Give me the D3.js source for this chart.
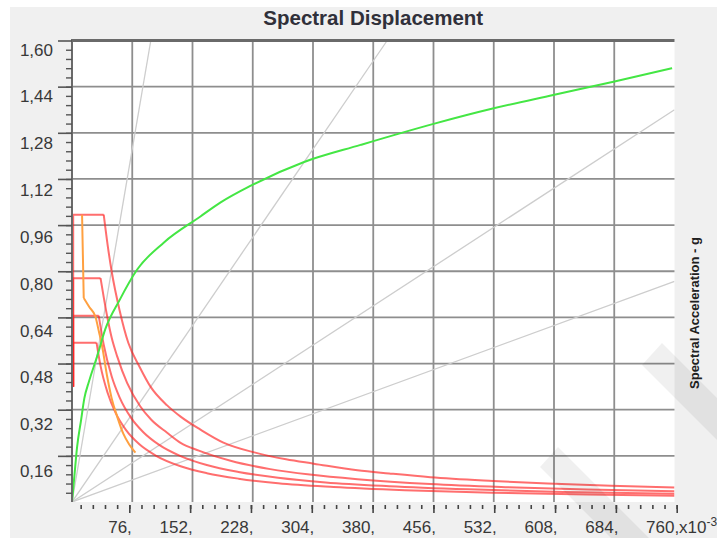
<!DOCTYPE html>
<html>
<head>
<meta charset="utf-8">
<script src="https://cdn.jsdelivr.net/npm/d3@7"></script>
<style>
  body { margin: 0; background: #fff; }
  text { font-family: "Liberation Sans", Arial, sans-serif; }
</style>
</head>
<body>
<div id="myChart"></div>
<script>
// spectral displacement (x10^-3) vs spectral acceleration (g)
const capacityCurve = [[0,0],[3,0.09],[6.4,0.19],[11.5,0.285],[15.6,0.36],[21.1,0.415],[31.7,0.505],[42.1,0.6],[60,0.7],[82,0.805],[116,0.9],[162,0.99],[187,1.038],[225,1.096],[292,1.178],[364,1.238],[456,1.311],[532,1.365],[607,1.411],[683,1.457],[757,1.504]];

// demand spectra: first three points are the rise and plateau, the rest the falling branch
const demandA = [[1.5,0.4],[1.5,0.996],[40,0.996],[45,0.89],[50,0.8],[60,0.665],[71,0.552],[85,0.47],[99,0.4],[120,0.335],[137,0.296],[162,0.251],[191,0.206],[230,0.172],[270,0.148],[305,0.133],[360,0.11],[400,0.099],[452,0.086],[531,0.073],[600,0.064],[680,0.056],[760,0.05]];
const demandB = [[1.5,0.4],[1.5,0.776],[36,0.776],[40,0.71],[44.4,0.643],[50,0.57],[57,0.505],[69.5,0.413],[86,0.332],[100,0.285],[120,0.24],[137,0.205],[160,0.178],[200,0.143],[250,0.114],[300,0.095],[360,0.079],[452,0.062],[550,0.051],[650,0.043],[760,0.037]];
const demandC = [[1.5,0.4],[1.5,0.646],[33.7,0.646],[40,0.545],[50,0.436],[60,0.363],[75,0.29],[90,0.242],[110,0.198],[137,0.159],[170,0.128],[210,0.104],[260,0.084],[320,0.068],[400,0.055],[500,0.044],[620,0.035],[760,0.0287]];
const demandD = [[1.5,0.4],[1.5,0.552],[31,0.552],[36,0.472],[45,0.378],[55,0.309],[68,0.25],[85,0.2],[105,0.162],[137,0.124],[170,0.1],[210,0.081],[260,0.065],[330,0.052],[420,0.041],[530,0.032],[650,0.026],[760,0.022]];
const singleDemand = [[12.7,0.996],[14.8,0.707],[22,0.675],[29.5,0.643],[34,0.59],[38,0.54],[44.3,0.436],[50,0.36],[56.9,0.297],[65,0.235],[72,0.2],[80,0.171]];

// constant period lines T = 0.5, 1.0, 1.5, 2.0 s
const periodLines = [
    [[0,0],[99.4,1.6]],
    [[0,0],[397.6,1.6]],
    [[0,0],[760,1.36]],
    [[0,0],[760,0.765]]
];

const xMajor = [76,152,228,304,380,456,532,608,684,760];
const yMajor = [0.16,0.32,0.48,0.64,0.80,0.96,1.12,1.28,1.44,1.60];

const w = 717;
const h = 538;

const xScale = d3.scaleLinear().domain([0, 760]).range([72, 674.5]);
const xTickScale = d3.scaleLinear().domain([0, 760]).range([68.5, 676.7]);
const yScale = d3.scaleLinear().domain([0, 1.6]).range([502, 40.5]);
const yLabelScale = d3.scaleLinear().domain([0, 1.6]).range([523.5, 55]);

const svg = d3.select("#myChart")
    .append("svg")
    .attr("width", w)
    .attr("height", h);

svg.append("rect").attr("width", w).attr("height", h).attr("fill", "#fff");
svg.append("rect").attr("x", 10).attr("y", 7).attr("width", w - 10).attr("height", h - 7).attr("fill", "#f0f0f0");

svg.append("defs").append("clipPath").attr("id", "plotClip")
    .append("rect")
    .attr("x", xScale(0)).attr("y", yScale(1.6))
    .attr("width", xScale(760) - xScale(0)).attr("height", yScale(0) - yScale(1.6));

svg.append("rect")
    .attr("x", xScale(0)).attr("y", yScale(1.6))
    .attr("width", xScale(760) - xScale(0)).attr("height", yScale(0) - yScale(1.6))
    .attr("fill", "#fff");

// grid
svg.append("g").selectAll("line")
    .data(xMajor.filter(d => d < 760))
    .enter().append("line")
    .attr("x1", d => xScale(d)).attr("x2", d => xScale(d))
    .attr("y1", yScale(1.6)).attr("y2", yScale(0))
    .attr("stroke", "#8e8e8e").attr("stroke-width", 1.8);
svg.append("g").selectAll("line")
    .data(yMajor.filter(d => d < 1.6))
    .enter().append("line")
    .attr("x1", xScale(0)).attr("x2", xScale(760))
    .attr("y1", d => yScale(d)).attr("y2", d => yScale(d))
    .attr("stroke", "#8e8e8e").attr("stroke-width", 1.8);

const line = d3.line().x(d => xScale(d[0])).y(d => yScale(d[1]));
const smooth = d3.line().x(d => xScale(d[0])).y(d => yScale(d[1])).curve(d3.curveMonotoneX);

const plot = svg.append("g").attr("clip-path", "url(#plotClip)");

plot.selectAll(".period")
    .data(periodLines)
    .enter().append("path")
    .attr("class", "period")
    .attr("d", line)
    .attr("fill", "none")
    .attr("stroke", "#cdcdcd")
    .attr("stroke-width", 1.3);

const demands = [demandA, demandB, demandC, demandD];

plot.selectAll(".demandHead")
    .data(demands)
    .enter().append("path")
    .attr("class", "demandHead")
    .attr("d", d => line(d.slice(0, 3)))
    .attr("fill", "none")
    .attr("stroke", "#ff2020")
    .attr("stroke-opacity", 0.65)
    .attr("stroke-width", 2);

plot.selectAll(".demandTail")
    .data(demands)
    .enter().append("path")
    .attr("class", "demandTail")
    .attr("d", d => smooth(d.slice(2)))
    .attr("fill", "none")
    .attr("stroke", "#ff2020")
    .attr("stroke-opacity", 0.65)
    .attr("stroke-width", 2);

plot.append("path")
    .attr("d", line(singleDemand.slice(0, 2)) + smooth(singleDemand.slice(1)))
    .attr("fill", "none")
    .attr("stroke", "#ffa040")
    .attr("stroke-width", 2);

plot.append("path")
    .datum(capacityCurve)
    .attr("d", smooth)
    .attr("fill", "none")
    .attr("stroke", "#44e644")
    .attr("stroke-width", 2);

// frame
svg.append("line")
    .attr("x1", xScale(0) - 1).attr("x2", xScale(760))
    .attr("y1", yScale(1.6)).attr("y2", yScale(1.6))
    .attr("stroke", "#6a6a6a").attr("stroke-width", 3);
svg.append("line")
    .attr("x1", xScale(0)).attr("x2", xScale(0))
    .attr("y1", yScale(1.6)).attr("y2", yScale(0))
    .attr("stroke", "#6a6a6a").attr("stroke-width", 2);

// y axis
const yMinor = d3.range(0.032, 1.59, 0.032);
const yMinorAxis = svg.append("g")
    .attr("transform", "translate(" + xScale(0) + ",0)")
    .call(d3.axisLeft(yScale).tickValues(yMinor).tickSize(6).tickFormat(""));
yMinorAxis.select(".domain").remove();
yMinorAxis.selectAll("line").attr("stroke", "#555").attr("stroke-width", 1.4);

const yAxis = svg.append("g")
    .attr("transform", "translate(" + xScale(0) + ",0)")
    .call(d3.axisLeft(yScale).tickValues(yMajor).tickSize(14)
        .tickFormat(d => d3.format(".2f")(d).replace(".", ",")));
yAxis.select(".domain").remove();
yAxis.selectAll("line").attr("stroke", "#555").attr("stroke-width", 1.6);
yAxis.selectAll("text")
    .attr("x", -19)
    .attr("y", d => yLabelScale(d) - yScale(d))
    .attr("dy", 0)
    .style("font-size", "17px")
    .style("fill", "#383838")
    .style("font-family", "'Liberation Sans', Arial, sans-serif");

// x axis
const xMinor = d3.range(15.2, 760.1, 15.2);
const xMinorAxis = svg.append("g")
    .attr("transform", "translate(0,505)")
    .call(d3.axisBottom(xTickScale).tickValues(xMinor).tickSize(4).tickFormat(""));
xMinorAxis.select(".domain").remove();
xMinorAxis.selectAll("line").attr("stroke", "#444").attr("stroke-width", 1.6);

const xAxis = svg.append("g")
    .attr("transform", "translate(0,505)")
    .call(d3.axisBottom(xTickScale).tickValues(xMajor).tickSize(8).tickFormat(d => d + ","));
xAxis.select(".domain").remove();
xAxis.selectAll("line").attr("stroke", "#444").attr("stroke-width", 1.6);
xAxis.selectAll("text")
    .attr("text-anchor", "end")
    .attr("x", 2)
    .attr("y", 28)
    .attr("dy", 0)
    .style("font-size", "17px")
    .style("fill", "#383838")
    .style("font-family", "'Liberation Sans', Arial, sans-serif");

const unit = svg.append("text")
    .attr("x", 679)
    .attr("y", 533)
    .style("font-size", "17px")
    .style("fill", "#383838");
unit.append("tspan").text("x10");
unit.append("tspan").attr("dy", -7).style("font-size", "12px").text("-3");

// titles
svg.append("text")
    .attr("x", (xScale(0) + xScale(760)) / 2)
    .attr("y", 25)
    .attr("text-anchor", "middle")
    .style("font-size", "20.5px")
    .style("font-weight", "bold")
    .style("fill", "#30303a")
    .text("Spectral Displacement");

svg.append("text")
    .attr("transform", "translate(698.5,313) rotate(-90)")
    .attr("text-anchor", "middle")
    .style("font-size", "13px")
    .style("font-weight", "bold")
    .style("fill", "#202020")
    .text("Spectral Acceleration - g");

// watermark stripes
svg.append("polygon")
    .attr("points", "662,343 717,398 717,440 642,365")
    .attr("fill", "#000").attr("fill-opacity", 0.06);
svg.append("polygon")
    .attr("points", "558,447 649,538 611,538 540,467")
    .attr("fill", "#000").attr("fill-opacity", 0.06);
</script>
</body>
</html>
